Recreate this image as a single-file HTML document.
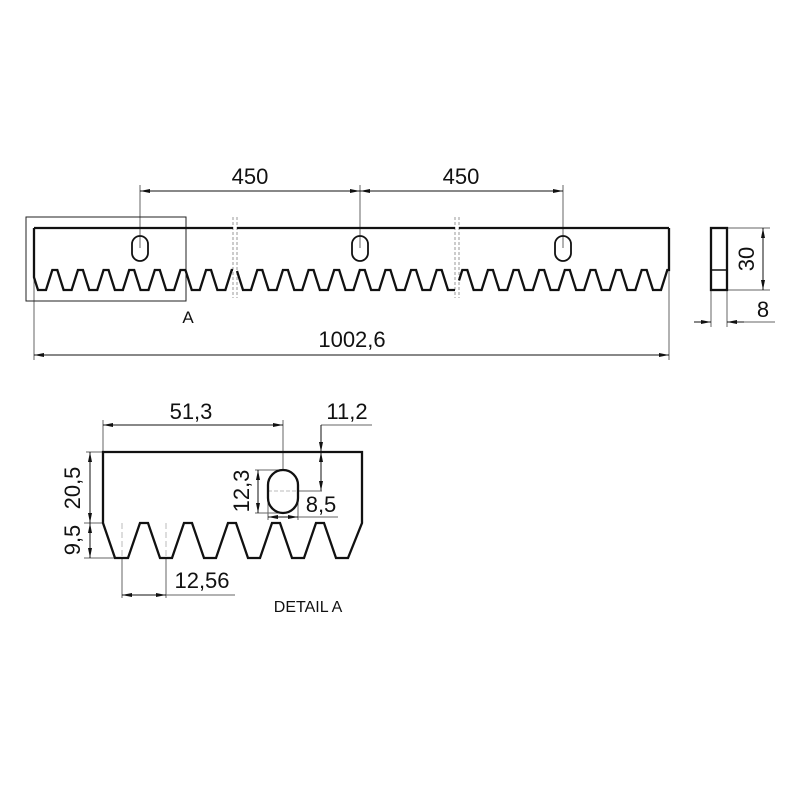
<!DOCTYPE html>
<html><head><meta charset="utf-8"><style>
html,body{margin:0;padding:0;background:#fff}
svg{display:block}
text{font-family:"Liberation Sans",sans-serif;fill:#111}
</style></head><body>
<svg id="s" width="800" height="800" viewBox="0 0 800 800" xmlns="http://www.w3.org/2000/svg">
<defs>
<marker id="a" viewBox="0 0 10 6" refX="10" refY="3" markerWidth="10" markerHeight="6" orient="auto-start-reverse" markerUnits="userSpaceOnUse"><path d="M0,1 L10,3 L0,5 z" fill="#111"/></marker>
</defs>
<g fill="none" stroke="#666" stroke-width="1">
<line x1="140" y1="185" x2="140" y2="248"/>
<line x1="360" y1="185" x2="360" y2="248"/>
<line x1="563" y1="185" x2="563" y2="248"/>
<line x1="140" y1="191" x2="360" y2="191" stroke="#111" marker-start="url(#a)" marker-end="url(#a)"/>
<line x1="360" y1="191" x2="563" y2="191" stroke="#111" marker-start="url(#a)" marker-end="url(#a)"/>
<line x1="34" y1="270" x2="34" y2="360"/>
<line x1="669" y1="270" x2="669" y2="360"/>
<line x1="34" y1="355" x2="669" y2="355" stroke="#111" marker-start="url(#a)" marker-end="url(#a)"/>
<rect x="26" y="217" width="160" height="84" stroke="#222"/>
<line x1="233" y1="217" x2="233" y2="298" stroke-dasharray="3,2" stroke="#999"/>
<line x1="237" y1="217" x2="237" y2="298" stroke-dasharray="3,2" stroke="#999"/>
<line x1="455" y1="217" x2="455" y2="298" stroke-dasharray="3,2" stroke="#999"/>
<line x1="459" y1="217" x2="459" y2="298" stroke-dasharray="3,2" stroke="#999"/>
<line x1="727" y1="228" x2="770" y2="228"/>
<line x1="727" y1="290" x2="770" y2="290"/>
<line x1="763" y1="228" x2="763" y2="290" stroke="#111" marker-start="url(#a)" marker-end="url(#a)"/>
<line x1="711" y1="290" x2="711" y2="327"/>
<line x1="727" y1="290" x2="727" y2="327"/>
<line x1="694" y1="322" x2="711" y2="322" stroke="#111" marker-end="url(#a)"/>
<line x1="744" y1="322" x2="727" y2="322" stroke="#111" marker-end="url(#a)"/>
<line x1="744" y1="322" x2="775" y2="322"/>
</g>
<g id="main" fill="none" stroke="#111" stroke-width="2.3"></g>
<rect x="711" y="228" width="16" height="62" fill="none" stroke="#111" stroke-width="2.3"/>
<line x1="711" y1="270" x2="727" y2="270" stroke="#111" stroke-width="1.5"/>
<text x="250" y="184" font-size="22" text-anchor="middle">450</text>
<text x="461" y="184" font-size="22" text-anchor="middle">450</text>
<text x="352" y="347" font-size="22" text-anchor="middle">1002,6</text>
<text x="188" y="323" font-size="17" text-anchor="middle">A</text>
<text transform="translate(754,259) rotate(-90)" font-size="22" text-anchor="middle">30</text>
<text x="763" y="317" font-size="22" text-anchor="middle">8</text>

<g fill="none" stroke="#666" stroke-width="1">
<line x1="103" y1="420" x2="103" y2="452"/>
<line x1="283" y1="420" x2="283" y2="470"/>
<line x1="103" y1="425" x2="283" y2="425" stroke="#111" marker-start="url(#a)" marker-end="url(#a)"/>
<line x1="321" y1="425" x2="372" y2="425"/>
<line x1="321" y1="425" x2="321" y2="452" stroke="#111" marker-end="url(#a)"/>
<line x1="321" y1="452" x2="321" y2="491" stroke="#111" marker-start="url(#a)" marker-end="url(#a)"/>
<line x1="268" y1="491" x2="322" y2="491" stroke-dasharray="4,2" stroke="#bbb"/>
<line x1="298" y1="491" x2="322" y2="491"/>
<line x1="255" y1="470" x2="283" y2="470"/>
<line x1="255" y1="513" x2="283" y2="513"/>
<line x1="258" y1="470" x2="258" y2="513" stroke="#111" marker-start="url(#a)" marker-end="url(#a)"/>
<line x1="268" y1="491" x2="268" y2="520"/>
<line x1="298" y1="491" x2="298" y2="520"/>
<line x1="268" y1="517" x2="298" y2="517" stroke="#111" marker-start="url(#a)" marker-end="url(#a)"/>
<line x1="298" y1="517" x2="338" y2="517"/>
<line x1="86" y1="452" x2="103" y2="452"/>
<line x1="84" y1="523" x2="103" y2="523"/>
<line x1="84" y1="558" x2="115" y2="558"/>
<line x1="90" y1="452" x2="90" y2="523" stroke="#111" marker-start="url(#a)" marker-end="url(#a)"/>
<line x1="90" y1="523" x2="90" y2="558" stroke="#111" marker-start="url(#a)" marker-end="url(#a)"/>
<line x1="122" y1="523" x2="122" y2="598" stroke-dasharray="6,3" stroke="#bbb"/>
<line x1="166" y1="523" x2="166" y2="598" stroke-dasharray="6,3" stroke="#bbb"/>
<line x1="122" y1="558" x2="122" y2="598"/>
<line x1="166" y1="558" x2="166" y2="598"/>
<line x1="122" y1="595" x2="166" y2="595" stroke="#111" marker-start="url(#a)" marker-end="url(#a)"/>
<line x1="166" y1="595" x2="235" y2="595"/>
</g>
<path d="M103,523 L103,452 L362,452 L362,523 L348,558 L336,558 L324,523 L316,523 L304,558 L292,558 L280,523 L272,523 L260,558 L248,558 L236,523 L228,523 L216,558 L204,558 L192,523 L184,523 L172,558 L160,558 L148,523 L140,523 L128,558 L115,558 Z" fill="none" stroke="#111" stroke-width="2.3"/>
<rect x="268" y="470" width="30" height="43" rx="15" ry="15" fill="none" stroke="#111" stroke-width="2.3"/>
<text x="191" y="419" font-size="22" text-anchor="middle">51,3</text>
<text x="347" y="419" font-size="22" text-anchor="middle">11,2</text>
<text transform="translate(249,491) rotate(-90)" font-size="22" text-anchor="middle">12,3</text>
<text x="321" y="512" font-size="22" text-anchor="middle">8,5</text>
<text transform="translate(80,488) rotate(-90)" font-size="22" text-anchor="middle">20,5</text>
<text transform="translate(80,540) rotate(-90)" font-size="22" text-anchor="middle">9,5</text>
<text x="202" y="588" font-size="22" text-anchor="middle">12,56</text>
<text x="308" y="612" font-size="16" text-anchor="middle">DETAIL A</text>
</svg>
<script>
(function(){
var g=document.getElementById('main');var ns='http://www.w3.org/2000/svg';
var p=25.625,c0=42,hw=4,pt=270,rt=290;
function seg(x0,x1,first,last){
  var pts=[];
  if(first){pts.push([x0,228]);}
  var prof=[];
  for(var k=-1;k<27;k++){
    var c=c0+p*k;
    prof.push([c-hw,rt]);prof.push([c+hw,rt]);
    var pc=c+p/2;
    prof.push([pc-2.5,pt]);prof.push([pc+2.5,pt]);
  }
  prof.unshift([x0-100,pt]);
  function yAt(x){for(var i=0;i<prof.length-1;i++){var a=prof[i],b=prof[i+1];if(x>=a[0]&&x<=b[0]){return b[0]==a[0]?a[1]:a[1]+(b[1]-a[1])*(x-a[0])/(b[0]-a[0]);}}return pt;}
  pts.push([x0,yAt(x0)]);
  prof.forEach(function(q){if(q[0]>x0&&q[0]<x1)pts.push(q);});
  pts.push([x1,yAt(x1)]);
  if(last)pts.push([x1,228]);
  var pl=document.createElementNS(ns,'polyline');
  pl.setAttribute('points',pts.map(function(q){return q[0]+','+q[1]}).join(' '));
  g.appendChild(pl);
  var tl=document.createElementNS(ns,'line');
  tl.setAttribute('x1',x0);tl.setAttribute('x2',x1);tl.setAttribute('y1',228);tl.setAttribute('y2',228);
  g.appendChild(tl);
}
seg(34,233,true,false);seg(237,455,false,false);seg(459,669,false,true);
[140,360,563].forEach(function(x){var r=document.createElementNS(ns,'rect');
r.setAttribute('x',x-8);r.setAttribute('y',236);r.setAttribute('width',16);r.setAttribute('height',25);r.setAttribute('rx',8);r.setAttribute('ry',8);r.setAttribute('stroke-width','1.8');g.appendChild(r);});
})();
</script>
</body></html>
